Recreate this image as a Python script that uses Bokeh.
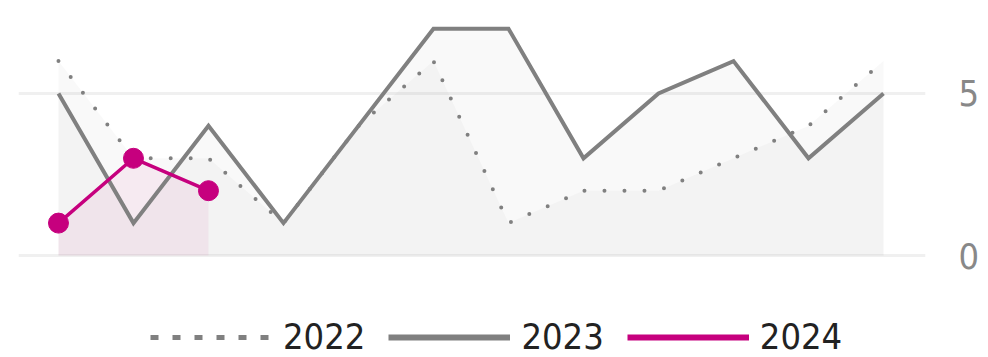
from bokeh.plotting import figure
from bokeh.models import Range1d, FixedTicker, Legend, LegendItem
from bokeh.embed import file_html
from bokeh.resources import INLINE

# Monthly values per year (month index 0..11)
months = list(range(12))
sales_2022 = [6, 3, 3, 1, 4, 6, 1, 2, 2, 3, 4, 6]
sales_2023 = [5, 1, 4, 1, 4, 7, 7, 3, 5, 6, 3, 5]
sales_2024 = [1, 3, 2]
years = ["2022", "2023", "2024"]
y_ticks = [0, 5]

GREY = "#808080"
MAGENTA = "#c6007e"
FONT = "'DejaVu Sans Condensed', Roboto, sans-serif"

p = figure(width=988, height=357, output_backend="svg", toolbar_location=None,
           x_range=Range1d(-0.533, 11.56), y_range=Range1d(-3.148, 7.870),
           x_axis_location=None, y_axis_location="right",
           min_border_left=18, min_border_right=63,
           min_border_top=0, min_border_bottom=0)
p.outline_line_color = None
p.background_fill_color = "white"
p.border_fill_color = "white"

p.xgrid.visible = False
p.ygrid.ticker = FixedTicker(ticks=y_ticks)
p.ygrid.grid_line_color = "#f0f0f0"
p.ygrid.grid_line_width = 3

p.yaxis.ticker = FixedTicker(ticks=y_ticks)
p.yaxis.axis_line_color = None
p.yaxis.major_tick_line_color = None
p.yaxis.minor_tick_line_color = None
p.yaxis.major_tick_out = 0
p.yaxis.major_tick_in = 0
p.yaxis.major_label_standoff = 33
p.yaxis.major_label_text_font = FONT
p.yaxis.major_label_text_font_size = "36px"
p.yaxis.major_label_text_color = "#888888"

# translucent areas under each year
p.varea(x=months, y1=0, y2=sales_2022, fill_color=GREY, fill_alpha=0.05)
p.varea(x=months, y1=0, y2=sales_2023, fill_color=GREY, fill_alpha=0.05)
p.varea(x=months[:len(sales_2024)], y1=0, y2=sales_2024, fill_color=MAGENTA, fill_alpha=0.06)

# lines
p.line(months, sales_2022, line_color=GREY, line_width=4, line_dash="0 20", line_cap="round")
p.line(months, sales_2023, line_color=GREY, line_width=4, line_join="miter")
p.line(months[:len(sales_2024)], sales_2024, line_color=MAGENTA, line_width=3.5)
p.scatter(months[:len(sales_2024)], sales_2024, size=20, fill_color=MAGENTA, line_color=MAGENTA)

# legend swatches
k22 = p.line([float("nan")], [float("nan")], line_color=GREY, line_width=5, line_dash="8 14")
k23 = p.line([float("nan")], [float("nan")], line_color=GREY, line_width=6)
k24 = p.line([float("nan")], [float("nan")], line_color=MAGENTA, line_width=6)

legend = Legend(items=[LegendItem(label=years[0], renderers=[k22]),
                       LegendItem(label=years[1], renderers=[k23]),
                       LegendItem(label=years[2], renderers=[k24])],
                orientation="horizontal", location=(132, 0),
                glyph_width=122, glyph_height=30, label_standoff=11, spacing=23,
                padding=0, margin=0, border_line_color=None, background_fill_alpha=0,
                label_text_font=FONT, label_text_font_size="36px", label_text_color="#222222")
p.add_layout(legend)

open("out.html", "w").write(file_html(p, INLINE))
